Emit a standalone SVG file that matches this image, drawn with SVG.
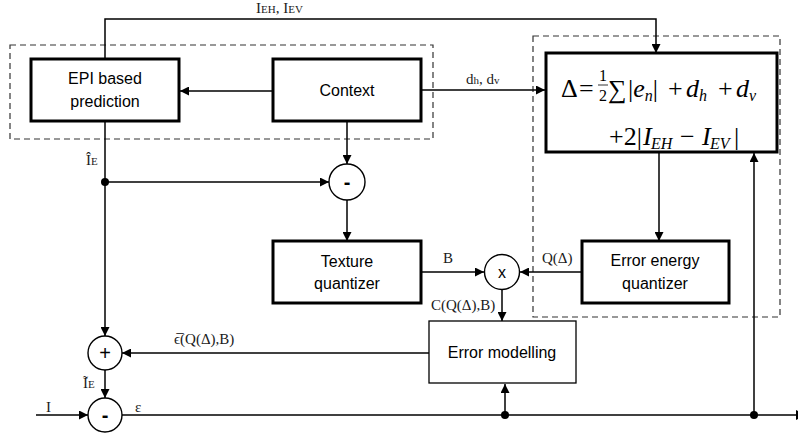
<svg xmlns="http://www.w3.org/2000/svg" width="798" height="433" viewBox="0 0 798 433">
  <defs>
    <marker id="arr" viewBox="0 0 10 10" refX="10" refY="5" markerWidth="10" markerHeight="9" markerUnits="userSpaceOnUse" orient="auto">
      <path d="M0,0 L10,5 L0,10 z" fill="#000"/>
    </marker>
    <style>
      .blk { fill: #fff; stroke: #000; stroke-width: 3; }
      .thin { fill: #fff; stroke: #000; stroke-width: 1.3; }
      .grp { fill: none; stroke: #333; stroke-width: 1.2; stroke-dasharray: 6 4; }
      .op { fill: #fff; stroke: #000; stroke-width: 1.4; }
      .w { fill: none; stroke: #000; stroke-width: 1.5; }
      .a { marker-end: url(#arr); }
      .lbl { font-family: "Liberation Sans", Arial, sans-serif; font-size: 16px; fill: #000; text-anchor: middle; }
      .sym { font-family: "Liberation Sans", Arial, sans-serif; font-size: 20px; fill: #000; text-anchor: middle; }
      .sig { font-family: "Liberation Serif", "Times New Roman", serif; font-size: 15px; fill: #1a1a1a; }
      .sub { font-size: 11px; }
      .m { font-family: "Liberation Serif", "Times New Roman", serif; font-size: 26px; fill: #000; }
      .mi { font-style: italic; }
      .ms { font-size: 16px; }
    </style>
  </defs>

  <!-- dashed grouping frames -->
  <rect class="grp" x="10" y="45" width="423" height="94"/>
  <rect class="grp" x="533" y="36" width="247" height="281"/>

  <!-- connectors -->
  <g id="connectors">
    <polyline class="w a" points="105,59 105,19 656,19 656,53"/>
    <line class="w a" x1="273" y1="91" x2="180" y2="91"/>
    <line class="w a" x1="421" y1="90" x2="545" y2="90"/>
    <line class="w a" x1="347" y1="121" x2="347" y2="164"/>
    <line class="w a" x1="105" y1="182" x2="329" y2="182"/>
    <line class="w a" x1="105" y1="121" x2="105" y2="336"/>
    <line class="w a" x1="347" y1="200" x2="347" y2="241"/>
    <line class="w a" x1="659" y1="152" x2="659" y2="241"/>
    <line class="w a" x1="421" y1="272" x2="484" y2="272"/>
    <line class="w a" x1="582" y1="272" x2="520" y2="272"/>
    <line class="w a" x1="502" y1="290" x2="502" y2="321"/>
    <line class="w a" x1="429" y1="353" x2="122" y2="353"/>
    <line class="w a" x1="105" y1="370" x2="105" y2="398"/>
    <line class="w a" x1="36" y1="415" x2="88" y2="415"/>
    <line class="w" x1="122" y1="415" x2="797" y2="415"/>
    <polygon points="796,410 806,415 796,420" fill="#000"/>
    <line class="w a" x1="505" y1="415" x2="505" y2="384"/>
    <line class="w a" x1="754" y1="415" x2="754" y2="153"/>
    <circle cx="105" cy="182" r="4"/>
    <circle cx="505" cy="415" r="4"/>
    <circle cx="754" cy="415" r="4"/>
  </g>

  <!-- signal labels -->
  <text class="sig" x="256" y="13">I<tspan class="sub">EH</tspan>, I<tspan class="sub">EV</tspan></text>
  <text class="sig" x="466" y="84">d<tspan class="sub">h</tspan>, d<tspan class="sub">v</tspan></text>
  <text class="sig" x="86" y="165">Î<tspan class="sub">E</tspan></text>
  <text class="sig" x="443" y="263">B</text>
  <text class="sig" x="542" y="263">Q(Δ)</text>
  <text class="sig" x="431" y="310">C(Q(Δ),B)</text>
  <text class="sig" x="174" y="344">ϵ̅(Q(Δ),B)</text>
  <text class="sig" x="83" y="388">Ĩ<tspan class="sub">E</tspan></text>
  <text class="sig" x="46" y="412">I</text>
  <text class="sig" x="135" y="412">ε</text>

  <g id="epi">
    <rect class="blk" x="31" y="59" width="148" height="62"/>
    <text class="lbl" x="105" y="84">EPI based</text>
    <text class="lbl" x="105" y="107">prediction</text>
  </g>

  <g id="context">
    <rect class="blk" x="273" y="59" width="148" height="62"/>
    <text class="lbl" x="347" y="96">Context</text>
  </g>

  <g id="delta">
    <rect class="blk" x="546" y="53" width="231" height="99"/>
    <text class="m" x="561" y="97">Δ</text>
    <text class="m" x="579" y="97">=</text>
    <text class="m ms" x="603" y="81" text-anchor="middle">1</text>
    <line x1="598" y1="85" x2="608" y2="85" stroke="#000" stroke-width="0.8"/>
    <text class="m ms" x="603" y="101" text-anchor="middle">2</text>
    <text class="m" x="608" y="98" font-size="30">∑</text>
    <text class="m" x="628" y="97">|<tspan class="mi">e</tspan><tspan class="mi ms" dy="4">n</tspan><tspan dy="-4">|</tspan></text>
    <text class="m" x="668" y="97">+</text>
    <text class="m mi" x="686" y="97">d</text>
    <text class="m mi ms" x="699" y="101">h</text>
    <text class="m" x="718" y="97">+</text>
    <text class="m mi" x="736" y="97">d</text>
    <text class="m mi ms" x="749" y="101">v</text>
    <text class="m" x="609" y="145">+2|</text>
    <text class="m mi" x="643" y="145">I</text>
    <text class="m mi ms" x="651" y="149">EH</text>
    <text class="m" x="680" y="145">−</text>
    <text class="m mi" x="702" y="145">I</text>
    <text class="m mi ms" x="710" y="149">EV</text>
    <text class="m" x="734" y="145">|</text>
  </g>

  <g id="sub-context">
    <circle class="op" cx="347" cy="182" r="18"/>
    <text class="sym" x="347" y="189" font-weight="bold">-</text>
  </g>

  <g id="texture">
    <rect class="blk" x="273" y="241" width="148" height="62"/>
    <text class="lbl" x="347" y="267">Texture</text>
    <text class="lbl" x="347" y="289">quantizer</text>
  </g>

  <g id="mult">
    <circle class="op" cx="502" cy="272" r="17.5"/>
    <text class="lbl" x="502" y="278" font-size="17">x</text>
  </g>

  <g id="energy">
    <rect class="blk" x="582" y="241" width="147" height="62"/>
    <text class="lbl" x="655" y="266">Error energy</text>
    <text class="lbl" x="655" y="289">quantizer</text>
  </g>

  <g id="model">
    <rect class="thin" x="429" y="321" width="147" height="62"/>
    <text class="lbl" x="502" y="358">Error modelling</text>
  </g>

  <g id="add">
    <circle class="op" cx="105" cy="353" r="17"/>
    <text class="sym" x="105" y="360">+</text>
  </g>

  <g id="sub-input">
    <circle class="op" cx="105" cy="415" r="17"/>
    <text class="sym" x="105" y="422" font-weight="bold">-</text>
  </g>
</svg>
